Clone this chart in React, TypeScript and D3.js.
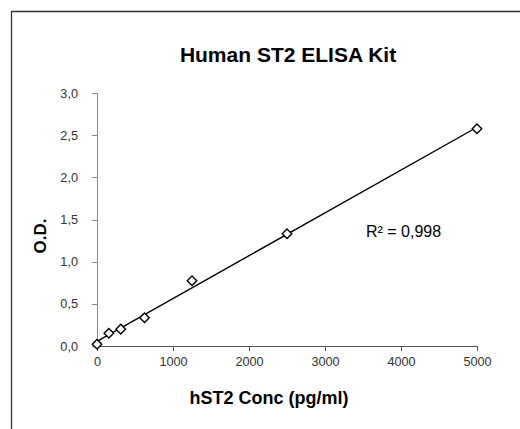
import React, { useRef, useEffect } from "react";
import * as d3 from "d3";

// standard curve points (pg/ml -> O.D.)
const concentrations = [0, 156.25, 312.5, 625, 1250, 2500, 5000];
const odValues = [0.02, 0.15, 0.2, 0.335, 0.775, 1.33, 2.575];
const xTicks = [0, 1000, 2000, 3000, 4000, 5000];
const yTicks = [0, 0.5, 1, 1.5, 2, 2.5, 3];
const r2Label = "R² = 0,998";

const W = 520;
const H = 429;
const font = "'Liberation Sans', Arial, sans-serif";

const App = () => {
  const svgRef = useRef<SVGSVGElement>(null);

  useEffect(() => {
    const svg = d3.select(svgRef.current);
    svg.selectAll("*").remove();

    const x = d3.scaleLinear().domain([0, 5000]).range([97, 477]);
    const y = d3.scaleLinear().domain([0, 3]).range([346, 93]);
    const fmt = (v: number) => d3.format(".1f")(v).replace(".", ",");

    svg.append("rect").attr("width", W).attr("height", H).attr("fill", "#fff");

    // outer frame (clipped by the picture on right/bottom)
    svg
      .append("path")
      .attr("d", `M11.5,${H} V11.5 H${W}`)
      .attr("fill", "none")
      .attr("stroke", "#333")
      .attr("stroke-width", 1.3);

    svg
      .append("text")
      .attr("x", 288)
      .attr("y", 62)
      .attr("text-anchor", "middle")
      .style("font-family", font)
      .style("font-weight", "bold")
      .style("font-size", "21px")
      .text("Human ST2 ELISA Kit");

    // y axis
    const yAxis = svg
      .append("g")
      .attr("transform", `translate(${x(0)},0)`)
      .call(d3.axisLeft(y).tickValues(yTicks).tickSize(5).tickPadding(14).tickFormat((d) => fmt(+d)));
    yAxis.selectAll("path,line").attr("stroke", "#888").attr("shape-rendering", "crispEdges");
    yAxis.select(".domain").attr("d", `M-5,${y(3)}H0V${y(0)}`);

    // x axis
    const xAxis = svg
      .append("g")
      .attr("transform", `translate(0,${y(0)})`)
      .call(d3.axisBottom(x).tickValues(xTicks).tickSize(5).tickPadding(6).tickFormat(d3.format("d")));
    xAxis.selectAll("path,line").attr("stroke", "#555").attr("shape-rendering", "crispEdges");
    xAxis.select(".domain").attr("d", `M${x(0)},0H${x(5000)}V5`);

    svg
      .selectAll(".tick text")
      .attr("fill", "#333")
      .style("font-family", font)
      .style("font-size", "12.7px");

    // linear trendline (least squares)
    const mx = d3.mean(concentrations)!;
    const my = d3.mean(odValues)!;
    const slope =
      d3.sum(concentrations, (c, i) => (c - mx) * (odValues[i] - my)) /
      d3.sum(concentrations, (c) => (c - mx) ** 2);
    const intercept = my - slope * mx;
    const line = d3
      .line<number>()
      .x((c) => x(c))
      .y((c) => y(intercept + slope * c));
    svg
      .append("path")
      .attr("d", line([0, 5000]))
      .attr("fill", "none")
      .attr("stroke", "#000")
      .attr("stroke-width", 1.4);

    // markers
    const diamond = d3.symbol().type(d3.symbolDiamond2).size(58);
    svg
      .selectAll(".pt")
      .data(concentrations)
      .enter()
      .append("path")
      .attr("class", "pt")
      .attr("d", diamond)
      .attr("transform", (c, i) => `translate(${x(c)},${y(odValues[i])})`)
      .attr("fill", "#fff")
      .attr("stroke", "#000")
      .attr("stroke-width", 1.4);

    svg
      .append("text")
      .attr("x", 366)
      .attr("y", 237)
      .style("font-family", font)
      .style("font-size", "16px")
      .text(r2Label);

    svg
      .append("text")
      .attr("x", 269)
      .attr("y", 404)
      .attr("text-anchor", "middle")
      .style("font-family", font)
      .style("font-weight", "bold")
      .style("font-size", "18px")
      .text("hST2 Conc (pg/ml)");

    svg
      .append("text")
      .attr("transform", "translate(46,236) rotate(-90)")
      .attr("text-anchor", "middle")
      .style("font-family", font)
      .style("font-weight", "bold")
      .style("font-size", "17px")
      .text("O.D.");
  }, []);

  return (
    <svg
      ref={svgRef}
      width={W}
      height={H}
      style={{ position: "absolute", left: 0, top: 0 }}
    />
  );
};

export default App;
